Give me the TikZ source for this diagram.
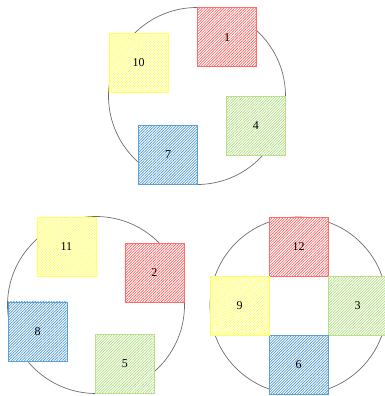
\documentclass[tikz,border=0pt]{standalone}
\usepackage{fontspec}
\setmainfont{Liberation Serif}
\usetikzlibrary{patterns.meta}
\definecolor{hred}{RGB}{255,60,60}
\definecolor{hyellow}{RGB}{255,255,40}
\definecolor{hgreen}{RGB}{160,215,100}
\definecolor{hblue}{RGB}{40,130,205}
\definecolor{ringgray}{RGB}{110,110,110}
\begin{document}
\begin{tikzpicture}[x=1pt,y=-1pt,
  sq/.style={minimum size=59pt, inner sep=0pt, draw=#1!75, line width=0.6pt,
    preaction={fill=white},
    pattern={Lines[angle=45, distance=1.9pt, line width=0.65pt]}, pattern color=#1!85,
    font=\fontsize{12}{14}\selectfont},
  ring/.style={draw=ringgray, line width=0.7pt}]
\useasboundingbox (0,0) rectangle (384,396);
% centres
\coordinate (A) at (197,96);
\coordinate (B) at (96,305);
\coordinate (C) at (298.5,305.5);
% rings
\draw[ring] (A) circle[radius=88.5pt];
\draw[ring] (B) circle[radius=88.5pt];
\draw[ring] (C) circle[radius=88.5pt];
% top group
\node[sq=hred]    (n1)  at (227,37.3) {1};
\node[sq=hgreen]  (n4)  at (255.8,125.5) {4};
\node[sq=hblue]   (n7)  at (168,154.8) {7};
\node[sq=hyellow] (n10) at (138.7,63) {10};
% bottom-left group
\node[sq=hred]    (n2)  at (154.3,272.7) {2};
\node[sq=hgreen]  (n5)  at (124.8,363.8) {5};
\node[sq=hblue]   (n8)  at (37.7,331.3) {8};
\node[sq=hyellow] (n11) at (66.3,246.8) {11};
% bottom-right group
\node[sq=hred]    (n12) at ([shift={(0,-59)}]C) {12};
\node[sq=hgreen]  (n3)  at ([shift={(59,0)}]C) {3};
\node[sq=hblue]   (n6)  at ([shift={(0,59)}]C) {6};
\node[sq=hyellow] (n9)  at ([shift={(-59,0)}]C) {9};
\end{tikzpicture}
\end{document}
